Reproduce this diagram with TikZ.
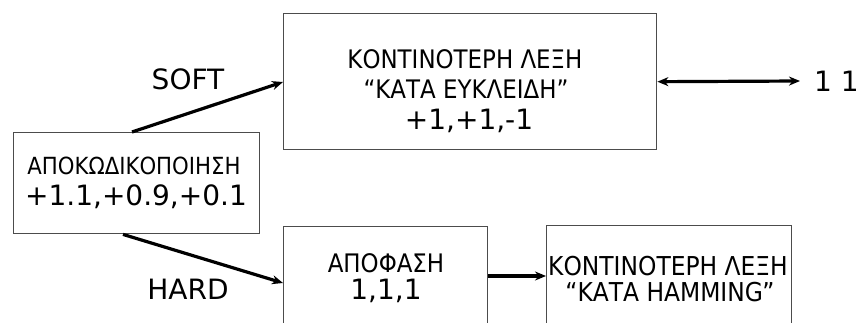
\documentclass[tikz,border=0pt]{standalone}
\usepackage{fontspec}
\setmainfont{DejaVu Sans}
\newfontfamily\condfont{DejaVu Sans Condensed}
\usetikzlibrary{arrows.meta}
\begin{document}
\begin{tikzpicture}[x=1pt,y=-1pt,
  block/.style={draw=black!70, line width=1.4pt, inner sep=0pt, anchor=north west},
  flow/.style={line width=3.2pt, -{Stealth[length=11pt,width=9pt]}},
  twoway/.style={line width=3.2pt, {Stealth[length=11pt,width=9pt]}-{Stealth[length=11pt,width=9pt]}},
  greek/.style={font=\condfont\fontsize{#1}{#1}\selectfont, inner sep=0pt},
  greek/.default=23.6,
  nums/.style={font=\fontsize{28}{28}\selectfont, inner sep=0pt},
  tag/.style={font=\fontsize{28}{28}\selectfont, inner sep=0pt}]
\useasboundingbox (0,0) rectangle (861,323);

% boxes
\node[block, minimum width=246pt, minimum height=101pt] (dec) at (13,132) {};
\node[block, minimum width=373pt, minimum height=136pt] (eucl) at (283,13) {};
\node[block, minimum width=204pt, minimum height=140pt] (hard) at (283,226) {};
\node[block, minimum width=245pt, minimum height=140pt] (hamm) at (546,225) {};

% box texts
\node[greek] (t1) at (134,166) {ΑΠΟΚΩΔΙΚΟΠΟΙΗΣΗ};
\node[nums]  (t2) at (136,197) {+1.1,+0.9,+0.1};
\node[greek=25.5] (t3) at (465,59) {ΚΟΝΤΙΝΟΤΕΡΗ ΛΕΞΗ};
\node[greek=25.5] (t4) at (466,89) {“ΚΑΤΑ ΕΥΚΛΕΙΔΗ”};
\node[nums]  (t5) at (469,121) {+1,+1,-1};
\node[greek=25.5] (t6) at (386,263) {ΑΠΟΦΑΣΗ};
\node[nums]  (t7) at (386,291) {1,1,1};
\node[greek=26] (t8) at (668,266) {ΚΟΝΤΙΝΟΤΕΡΗ ΛΕΞΗ};
\node[greek=26] (t9) at (670,292) {“ΚΑΤΑ HAMMING”};

% branch labels
\node[tag] (soft) at (188,79) {SOFT};
\node[tag] (hardl) at (188,289) {HARD};
\node[nums, anchor=west] (out) at (814,81) {1 1};

% connectors
\draw[flow] ([xshift=119pt]dec.north west) -- ([yshift=-69pt]eucl.north west);
\draw[flow] ([xshift=110pt]dec.south west) -- ([yshift=-57pt]hard.north west);
\draw[flow] ([yshift=-50pt]hard.north east) -- ([yshift=-51pt]hamm.north west);
\coordinate (outend) at (800,81);
\draw[twoway] (eucl.east) -- (outend);
\end{tikzpicture}
\end{document}
